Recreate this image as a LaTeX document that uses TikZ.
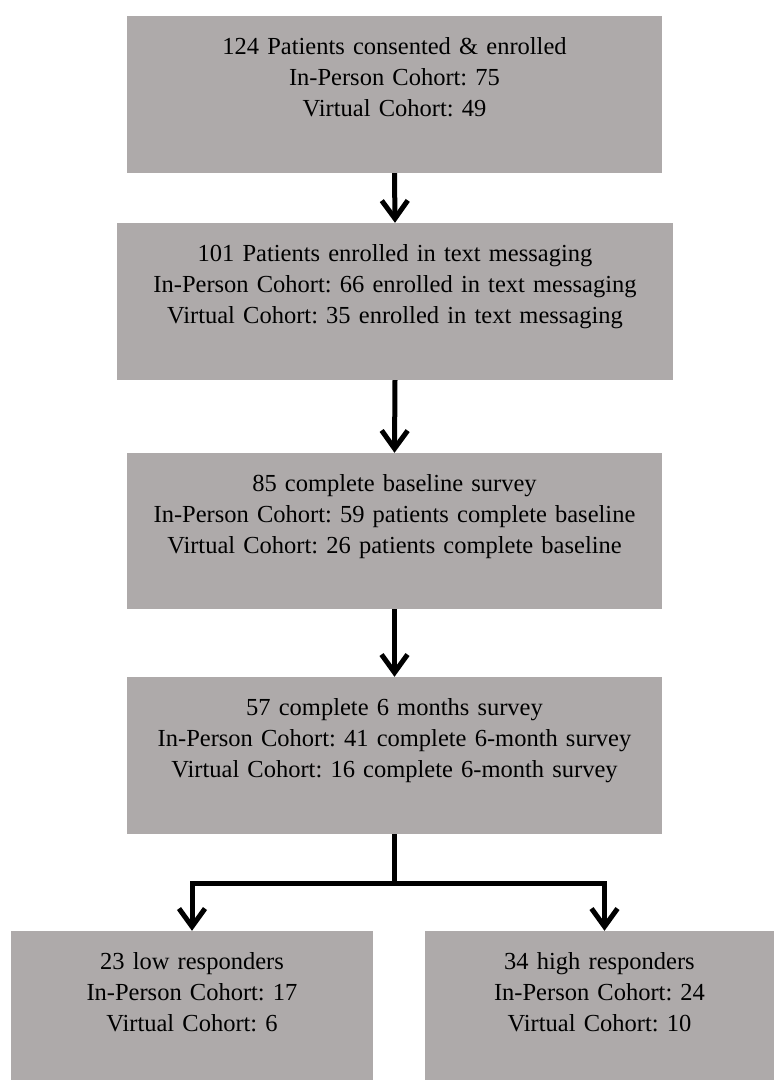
\documentclass[tikz,border=0pt]{standalone}
\usepackage{fontspec}
\setmainfont{Liberation Serif}
\usetikzlibrary{arrows.meta}
\definecolor{boxgray}{RGB}{174,170,170}
\frenchspacing

\begin{document}
\begin{tikzpicture}[
  x=1pt, y=-1pt,
  box/.style={fill=boxgray, inner sep=0pt, align=center, text height=38pt,
    font=\fontsize{24.5}{31}\selectfont},
  arr/.style={-{Straight Barb[length=18pt,width=26pt]}, line width=5pt},
  ln/.style={line width=5pt}
]
\useasboundingbox (0,0) rectangle (774,1080);

\node[box, text width=535pt, text depth=119pt] (enrol) at (394.5,94.5)
  {124 Patients consented \& enrolled\\In-Person Cohort: 75\\Virtual Cohort: 49};
\node[box, text width=556pt, text depth=119pt] (texting) at (395,301.5)
  {101 Patients enrolled in text messaging\\In-Person Cohort: 66 enrolled in text messaging\\Virtual Cohort: 35 enrolled in text messaging};
\node[box, text width=535pt, text depth=118pt] (base) at (394.5,531)
  {85 complete baseline survey\\In-Person Cohort: 59 patients complete baseline\\Virtual Cohort: 26 patients complete baseline};
\node[box, text width=535pt, text depth=119pt] (six) at (394.5,755.5)
  {57 complete 6 months survey\\In-Person Cohort: 41 complete 6-month survey\\Virtual Cohort: 16 complete 6-month survey};
\node[box, text width=362pt, text depth=111pt] (low) at (192,1005.5)
  {23 low responders\\In-Person Cohort: 17\\Virtual Cohort: 6};
\node[box, text width=349pt, text depth=111pt] (high) at (599.5,1005.5)
  {34 high responders\\In-Person Cohort: 24\\Virtual Cohort: 10};

\coordinate (fork) at (394.5,883);

\draw[arr] (enrol.south) -- (texting.north);
\draw[arr] (texting.south) -- (base.north);
\draw[arr] (base.south) -- (six.north);
\draw[ln] (six.south) -- (fork);
\draw[arr] (fork) -| (low.north);
\draw[arr] (fork) -| ([xshift=5pt]high.north);
\end{tikzpicture}
\end{document}
